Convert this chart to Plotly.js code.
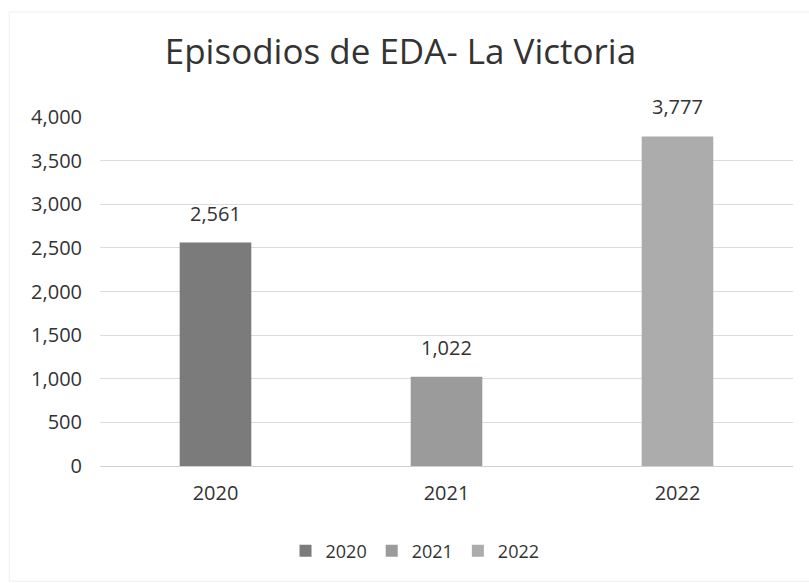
<!DOCTYPE html>
<html>
<head>
<meta charset="utf-8">
<script src="https://cdn.plot.ly/plotly-3.0.1.min.js"></script>
<style>html,body{margin:0;padding:0;background:#fff;}#chart{width:809px;height:583px;}</style>
</head>
<body>
<div id="chart"></div>
<script>
const categories = ["2020", "2021", "2022"];
const values = [2561, 1022, 3777];
const seriesNames = ["2020", "2021", "2022"];
const colors = ["#7b7b7b", "#9b9b9b", "#acacac"];
const yTicks = [0, 500, 1000, 1500, 2000, 2500, 3000, 3500, 4000];

const FONT = "'Open Sans', Lato, sans-serif";

const traces = categories.map((c, i) => ({
  type: "bar",
  name: seriesNames[i],
  x: [c],
  y: [values[i]],
  width: 0.31,
  marker: {color: colors[i]},
  hoverinfo: "x+y"
}));

const annotations = categories.map((c, i) => ({
  x: i, y: values[i], xref: "x", yref: "y",
  text: values[i].toLocaleString("en-US"),
  showarrow: false, yanchor: "bottom", yshift: 14,
  font: {family: FONT, size: 20, color: "#333333"}
}));

const layout = {
  width: 809, height: 583,
  paper_bgcolor: "#fff", plot_bgcolor: "#fff",
  margin: {l: 100, r: 16, t: 117, b: 117},
  barmode: "overlay",
  title: {text: "Episodios de EDA- La Victoria", x: 0.495, xanchor: "center", y: 0.912, yanchor: "middle",
          font: {family: FONT, size: 35, color: "#333333"}},
  font: {family: FONT, color: "#404040"},
  xaxis: {type: "category", categoryorder: "array", categoryarray: categories,
          tickfont: {size: 20, color: "#333333"}, showgrid: false, zeroline: false,
          showline: false, ticks: "", ticklabelstandoff: 13},
  yaxis: {range: [0, 4000], tickvals: yTicks, tickformat: ",d", tickfont: {size: 20, color: "#333333"},
          gridcolor: "#dcdcdc", zeroline: true, zerolinecolor: "#d0d0d0", showline: false, ticks: "",
          ticklabelstandoff: 17},
  legend: {orientation: "h", xref: "container", x: 0.513, xanchor: "center", yref: "container", y: 0.055, yanchor: "middle",
           font: {size: 18, color: "#333333"}, traceorder: "normal", itemwidth: 30},
  shapes: [{type: "rect", xref: "paper", yref: "paper", x0: -0.131, x1: 1.03, y0: -0.33, y1: 1.301,
            line: {color: "#eeeeee", width: 1}, fillcolor: "rgba(0,0,0,0)", layer: "below"}],
  annotations: annotations,
  showlegend: true
};

Plotly.newPlot("chart", traces, layout, {displayModeBar: false, staticPlot: true});
</script>
</body>
</html>
